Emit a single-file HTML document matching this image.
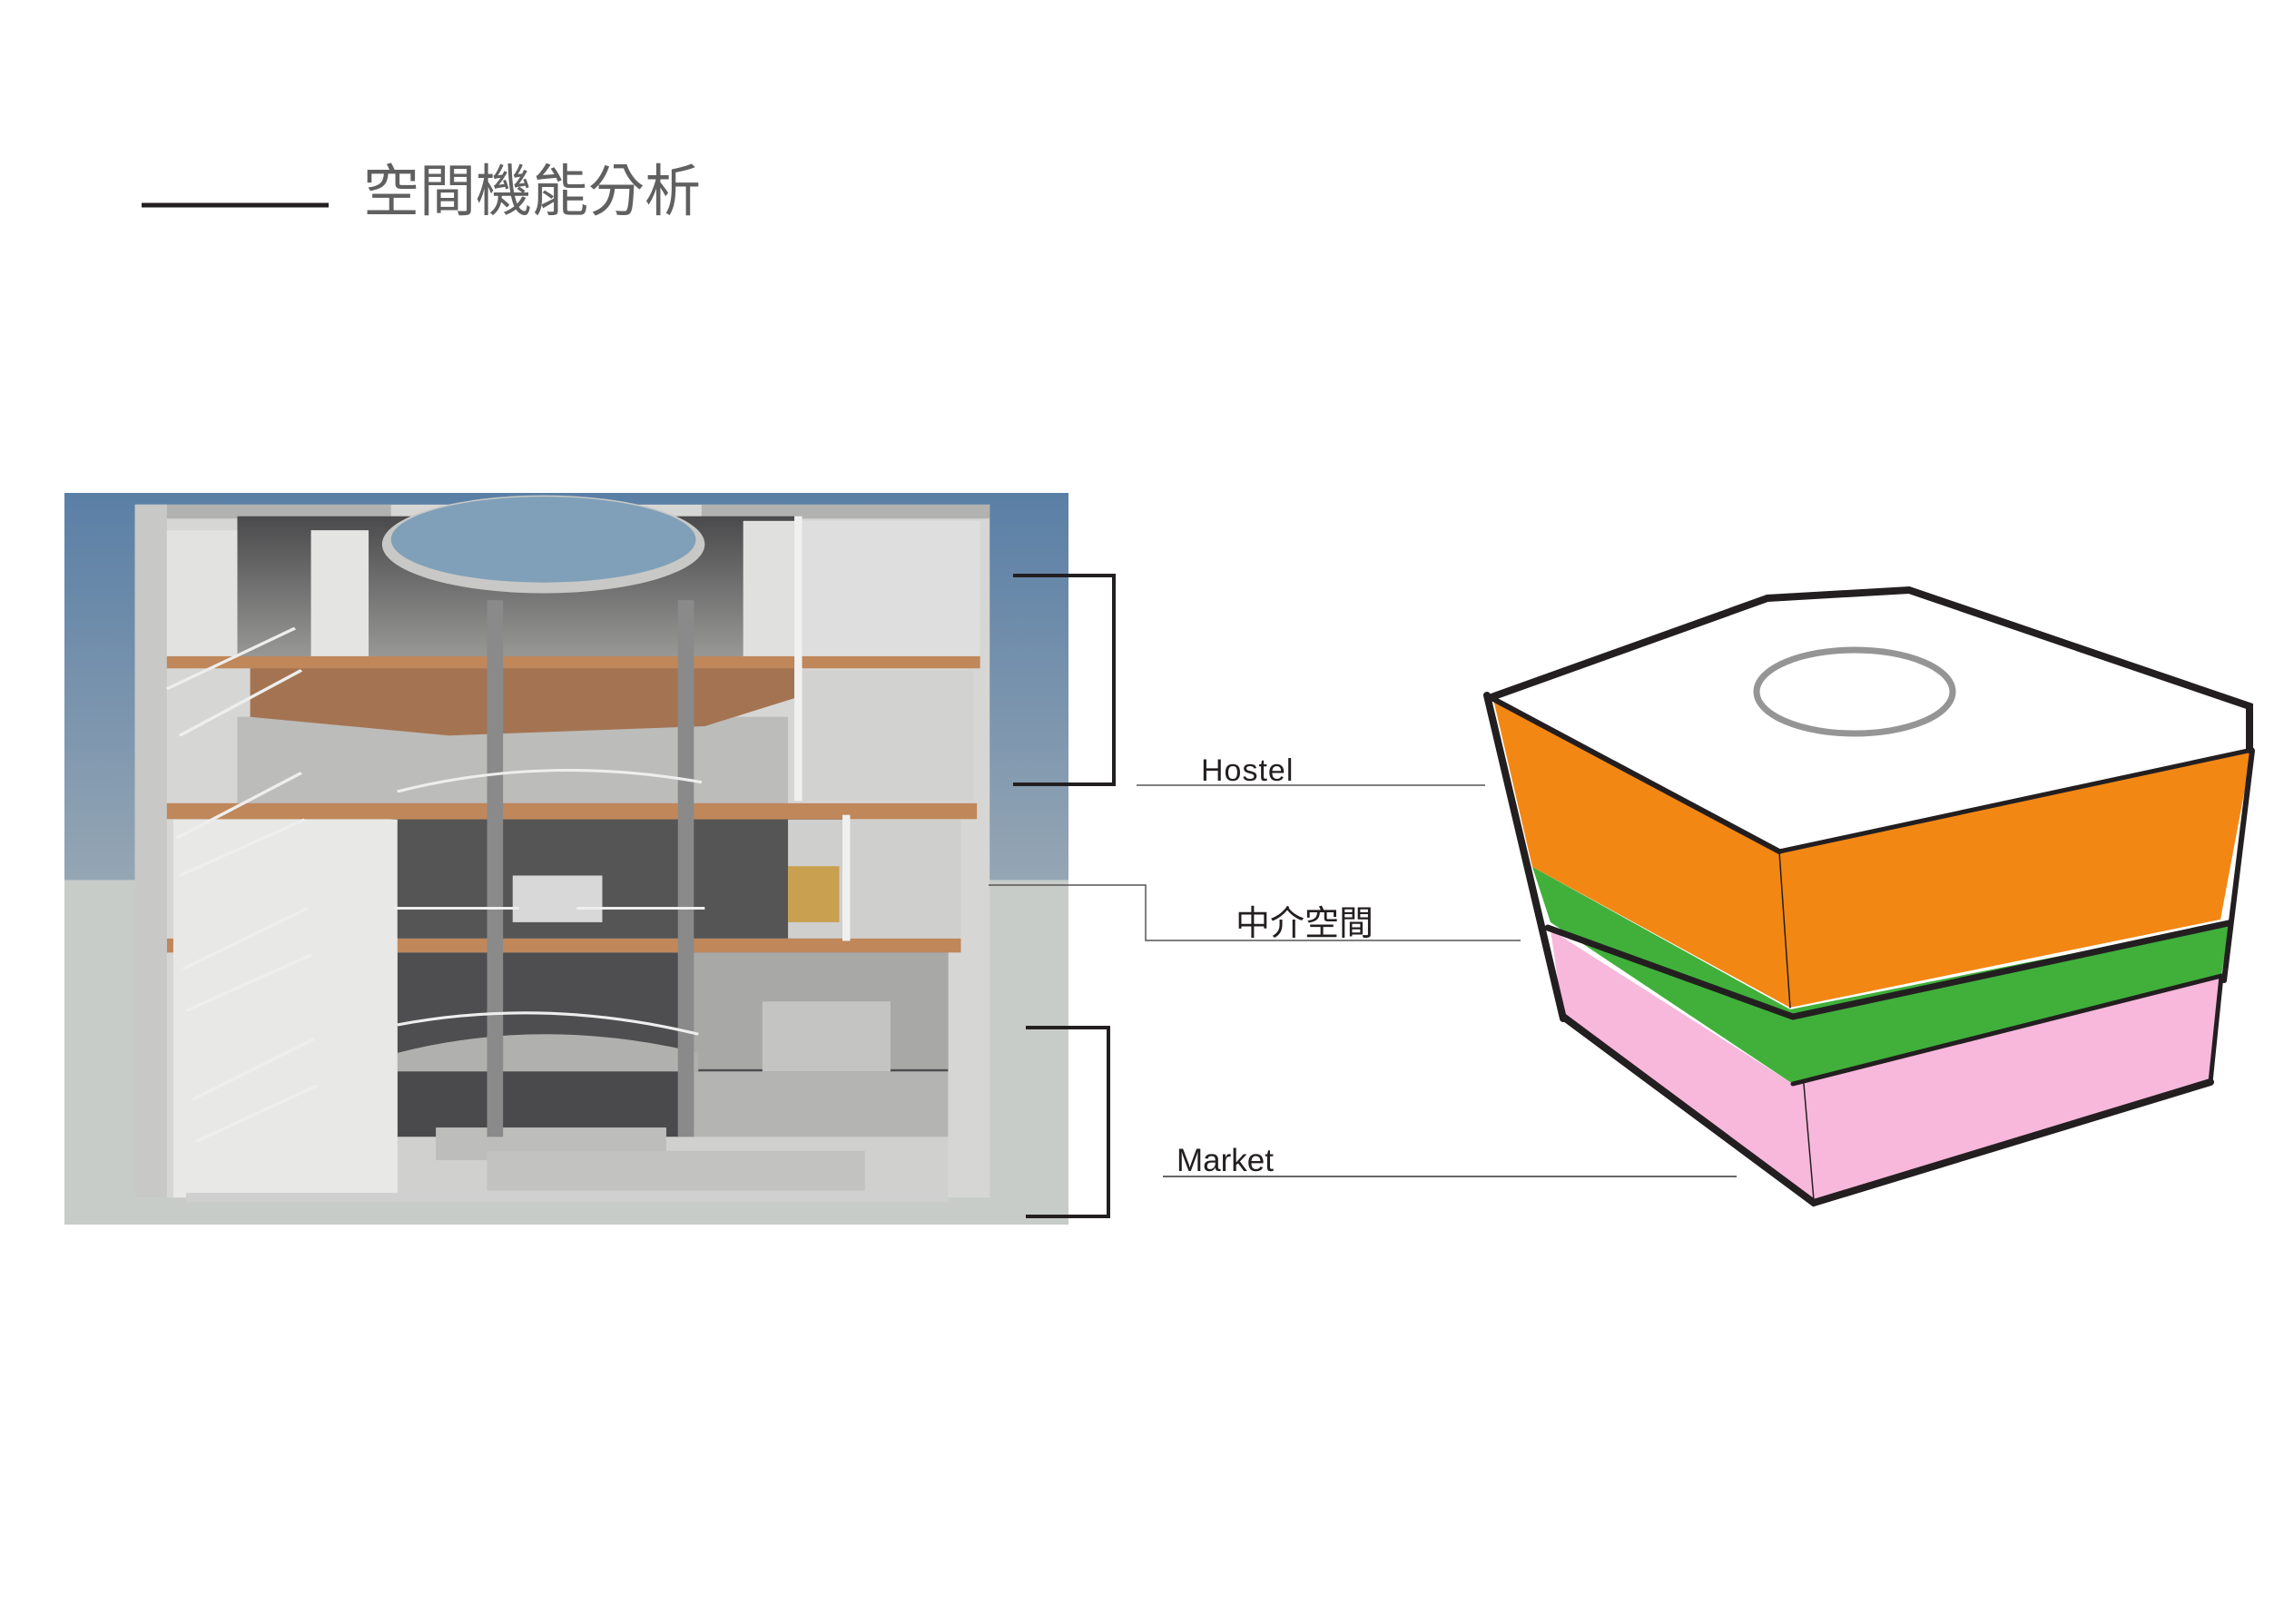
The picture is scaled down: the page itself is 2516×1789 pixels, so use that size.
<!DOCTYPE html>
<html><head><meta charset="utf-8"><style>
html,body{margin:0;padding:0;background:#fff;}
body{width:2516px;height:1789px;overflow:hidden;position:relative;}
svg{position:absolute;left:0;top:0;}
</style></head><body>
<svg width="2516" height="1789" viewBox="0 0 2516 1789" xmlns="http://www.w3.org/2000/svg">
<defs>
<linearGradient id="sky" x1="0" y1="0" x2="0" y2="1">
<stop offset="0" stop-color="#5a7fa6"/><stop offset="1" stop-color="#95a6b4"/>
</linearGradient>
<linearGradient id="dark" x1="0" y1="0" x2="0" y2="1">
<stop offset="0" stop-color="#4a4a4c"/><stop offset="1" stop-color="#9a9a98"/>
</linearGradient>
</defs>
<!-- title -->
<line x1="156" y1="226" x2="362" y2="226" stroke="#231f20" stroke-width="5"/>
<text x="400" y="232" font-family="'Liberation Sans','Noto Sans CJK TC',sans-serif" font-size="62" fill="#606060">空間機能分析</text>

<!-- photo -->
<svg x="71" y="543" width="1106" height="806" viewBox="0 0 1568 1568" preserveAspectRatio="none">
<rect x="0" y="0" width="1568" height="830" fill="url(#sky)"/>
<rect x="0" y="830" width="1568" height="738" fill="#c8ccc9"/>
<rect x="110" y="25" width="1335" height="1485" fill="#d6d6d4"/>
<rect x="110" y="25" width="400" height="30" fill="#b2b2b0"/>
<rect x="995" y="25" width="450" height="30" fill="#b2b2b0"/>
<rect x="270" y="50" width="870" height="310" fill="url(#dark)"/>
<ellipse cx="748" cy="110" rx="252" ry="105" fill="#c8c8c6"/>
<ellipse cx="748" cy="100" rx="238" ry="92" fill="#7fa0b8"/>
<rect x="150" y="80" width="120" height="280" fill="#e2e2e0"/>
<rect x="385" y="80" width="90" height="280" fill="#e4e4e2"/>
<rect x="1060" y="60" width="85" height="300" fill="#e0e0de"/>
<rect x="1150" y="60" width="280" height="290" fill="#dedede"/>
<rect x="270" y="480" width="860" height="190" fill="#bcbcba"/>
<rect x="1140" y="380" width="280" height="280" fill="#d2d2d0"/>
<polygon points="290,375 1140,375 1140,440 1000,500 600,520 290,480" fill="#a47452"/>
<rect x="150" y="350" width="1280" height="26" fill="#c0875a"/>
<rect x="150" y="665" width="1275" height="34" fill="#c0875a"/>
<polygon points="510,699 1220,699 1130,725 700,725" fill="#8d6547"/>
<rect x="510" y="700" width="710" height="255" fill="#555556"/>
<rect x="1130" y="700" width="270" height="255" fill="#cfcfcd"/>
<rect x="700" y="820" width="140" height="100" fill="#d8d8d8"/>
<rect x="1130" y="800" width="80" height="120" fill="#c8a050"/>
<rect x="160" y="955" width="1240" height="30" fill="#c0875a"/>
<rect x="520" y="985" width="860" height="255" fill="#4e4e50"/>
<rect x="970" y="985" width="410" height="250" fill="#a8a8a6"/>
<rect x="1090" y="1090" width="200" height="150" fill="#c4c4c2"/>
<path d="M520 1200 Q750 1120 990 1200 L990 1240 L520 1240Z" fill="#b0b0ae"/>
<rect x="520" y="1240" width="440" height="140" fill="#4a4a4c"/>
<rect x="960" y="1240" width="420" height="140" fill="#b4b4b2"/>
<rect x="520" y="1380" width="860" height="130" fill="#d0d0ce"/>
<rect x="580" y="1360" width="360" height="70" fill="#bdbdbb"/>
<rect x="660" y="1410" width="590" height="85" fill="#c2c2c0"/>
<rect x="170" y="700" width="350" height="810" fill="#e8e8e6"/>
<rect x="110" y="25" width="50" height="1485" fill="#c8c8c6"/>
<rect x="660" y="230" width="25" height="1150" fill="#8a8a8a"/>
<rect x="958" y="230" width="25" height="1150" fill="#8a8a8a"/>
<rect x="1140" y="50" width="12" height="610" fill="#f0f0f0"/>
<rect x="1215" y="690" width="12" height="270" fill="#f0f0f0"/>
<rect x="190" y="1500" width="1190" height="20" fill="#cfcfcf"/>
<g stroke="#eeeeee" stroke-width="6" fill="none">
<path d="M160 420 L360 290 M180 520 L370 380"/>
<path d="M175 740 L370 600 M180 820 L375 700"/>
<path d="M185 1020 L380 890 M190 1110 L385 990"/>
<path d="M200 1300 L390 1170 M205 1390 L395 1270"/>
<path d="M520 640 Q750 560 995 620 M520 1140 Q750 1080 990 1160"/>
<path d="M515 890 L710 890 M800 890 L1000 890"/>
</g>
</svg>

<!-- brackets -->
<polyline points="1116,634 1227,634 1227,864 1116,864" fill="none" stroke="#231f20" stroke-width="4"/>
<polyline points="1130,1132 1221,1132 1221,1340 1130,1340" fill="none" stroke="#231f20" stroke-width="4"/>

<!-- labels -->
<line x1="1252" y1="865" x2="1636" y2="865" stroke="#555" stroke-width="1.5"/>
<text x="1323" y="860" font-family="'Liberation Sans',sans-serif" font-size="34" fill="#231f20" letter-spacing="1">Hostel</text>
<polyline points="1089,975 1262,975 1262,1036 1675,1036" fill="none" stroke="#555" stroke-width="1.5"/>
<text x="1361" y="1030" font-family="'Liberation Sans','Noto Sans CJK TC',sans-serif" font-size="38" fill="#231f20">中介空間</text>
<line x1="1281" y1="1296" x2="1913" y2="1296" stroke="#333" stroke-width="1.5"/>
<text x="1296" y="1290" font-family="'Liberation Sans',sans-serif" font-size="35" fill="#231f20">Market</text>

<!-- hexagonal massing -->
<polygon points="1643,768 1947,659 2103,650 2478,778 2478,826 1960,938" fill="#fff"/>
<polygon points="1645,770 1960,938 2481,826 2446,1013 1972,1110 1688,955" fill="#f38714"/>
<polygon points="1972,1110 2446,1013 2456,1016 1975,1121" fill="#fff"/>
<polygon points="1688,955 1972,1112 2456,1016 2447,1075 1975,1194 1708,1016" fill="#40b03b"/>
<polygon points="1708,1024 1975,1194 2447,1075 2435,1191 1998,1322 1722,1120" fill="#f7b8dc"/>
<ellipse cx="2043" cy="762" rx="108" ry="46" fill="none" stroke="#959595" stroke-width="7"/>
<g fill="none" stroke="#231f20" stroke-linejoin="miter" stroke-linecap="round">
<polyline points="1643,768 1947,659 2103,650 2478,778 2478,826" stroke-width="8"/>
<line x1="1645" y1="770" x2="1960" y2="938" stroke-width="6"/>
<line x1="1960" y1="938" x2="2481" y2="826" stroke-width="5"/>
<line x1="1638" y1="766" x2="1722" y2="1122" stroke-width="8"/>
<line x1="2481" y1="827" x2="2450" y2="1080" stroke-width="6"/>
<polyline points="1705,1022 1975,1120 2455,1017" stroke-width="7"/>
<line x1="1975" y1="1194" x2="2447" y2="1075" stroke-width="5"/>
<polyline points="1722,1120 1998,1325 2435,1192" stroke-width="8"/>
<line x1="2435" y1="1192" x2="2447" y2="1075" stroke-width="5"/>
<line x1="1960" y1="938" x2="1972" y2="1110" stroke-width="1.5"/>
<line x1="1987" y1="1194" x2="1998" y2="1322" stroke-width="1.5"/>
</g>
</svg>
</body></html>
